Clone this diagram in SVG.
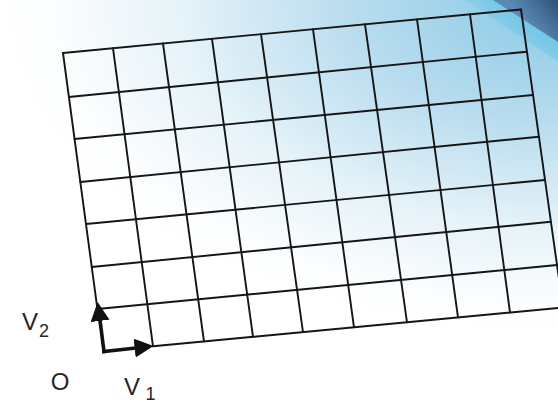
<svg xmlns="http://www.w3.org/2000/svg" width="558" height="401" viewBox="0 0 558 401">
  <defs>
    <radialGradient id="bg" gradientUnits="userSpaceOnUse" cx="558" cy="0" r="560" gradientTransform="translate(558 0) scale(1 0.6) translate(-558 0)">
      <stop offset="0" stop-color="#88c9e6"/>
      <stop offset="0.35" stop-color="#b6dbee"/>
      <stop offset="0.68" stop-color="#e6f3f9"/>
      <stop offset="0.9" stop-color="#fbfdfe"/>
      <stop offset="1" stop-color="#ffffff"/>
    </radialGradient>
    <linearGradient id="band" gradientUnits="userSpaceOnUse" x1="522" y1="18" x2="552" y2="-8">
      <stop offset="0" stop-color="#5a8ab4"/>
      <stop offset="1" stop-color="#2f5079"/>
    </linearGradient>
    <linearGradient id="glow" gradientUnits="userSpaceOnUse" x1="525" y1="22" x2="505" y2="48">
      <stop offset="0" stop-color="#6cc6e6" stop-opacity="0.8"/>
      <stop offset="1" stop-color="#6cc6e6" stop-opacity="0"/>
    </linearGradient>
    <marker id="head" markerUnits="userSpaceOnUse" markerWidth="20" markerHeight="20" refX="2" refY="9.5" orient="auto">
      <path d="M0,0 L19,9.5 L0,19 Z" fill="#111"/>
    </marker>
    <style>
      .grid line { stroke: #151515; stroke-width: 1.9; stroke-linecap: round; }
      .vec { stroke: #111; stroke-width: 3.6; stroke-linecap: square; fill: none; marker-end: url(#head); }
      .lbl { font-family: "Liberation Sans", Arial, sans-serif; fill: #262626; }
      .big { font-size: 24px; }
      .sub { font-size: 18px; }
    </style>
  </defs>

  <g id="background">
    <rect x="0" y="0" width="558" height="401" fill="url(#bg)"/>
    <polygon points="465,0 493,0 558,42 558,62" fill="url(#glow)"/>
    <polygon points="493,0 558,0 558,42" fill="url(#band)"/>
  </g>

  <g id="grid" class="grid">
    <!-- horizontal lines (left edge to right edge) -->
    <line x1="63" y1="53" x2="521" y2="9.5"/>
    <line x1="68.9" y1="97" x2="527" y2="51.7"/>
    <line x1="74.5" y1="139" x2="533" y2="95"/>
    <line x1="80.3" y1="182" x2="538.9" y2="136.7"/>
    <line x1="86" y1="224" x2="545" y2="180"/>
    <line x1="91.7" y1="267" x2="550.9" y2="221.7"/>
    <line x1="97.4" y1="309" x2="557" y2="265"/>
    <line x1="153" y1="346.3" x2="563" y2="307.5"/>
    <!-- vertical lines (top edge to bottom edge) -->
    <line x1="63" y1="53" x2="97.4" y2="309"/>
    <line x1="113" y1="48.3" x2="153" y2="346.3"/>
    <line x1="163" y1="43.5" x2="204" y2="341.5"/>
    <line x1="212" y1="38.9" x2="253" y2="336.8"/>
    <line x1="261" y1="34.2" x2="303" y2="332.1"/>
    <line x1="313" y1="29.3" x2="354" y2="327.3"/>
    <line x1="365" y1="24.3" x2="407" y2="322.3"/>
    <line x1="417" y1="19.4" x2="458" y2="317.4"/>
    <line x1="470" y1="14.3" x2="510" y2="312.5"/>
    <line x1="521" y1="9.5" x2="563" y2="307.5"/>
  </g>

  <g id="connectors">
    <line id="v1" class="vec" x1="104" y1="351.5" x2="136.6" y2="347.9"/>
    <line id="v2" class="vec" x1="104" y1="351.5" x2="99.8" y2="318.9"/>
  </g>

  <g id="label-v2" class="lbl">
    <text class="big" x="22" y="329.5">V</text>
    <text class="sub" x="39" y="336.5">2</text>
  </g>
  <g id="label-o" class="lbl">
    <text class="big" x="60" y="390" text-anchor="middle">O</text>
  </g>
  <g id="label-v1" class="lbl">
    <text class="big" x="124" y="395">V</text>
    <text class="sub" x="145.5" y="400">1</text>
  </g>
</svg>
